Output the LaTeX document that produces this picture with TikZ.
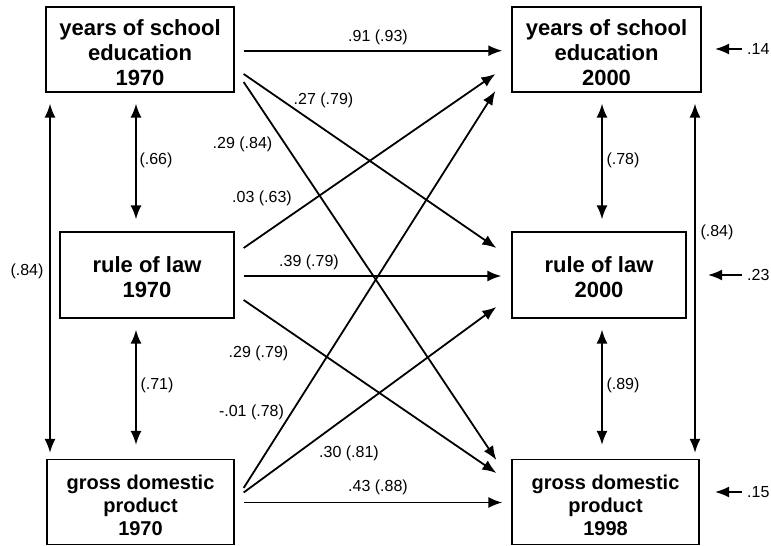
\documentclass[tikz,border=0pt]{standalone}
\usepackage{fontspec}
\setmainfont{Liberation Sans}
\usetikzlibrary{arrows.meta,calc}
% strut that lowers the text block a little inside its box
\newcommand{\toplift}[1]{\rule{0pt}{#1}}
\begin{document}
\begin{tikzpicture}[x=1bp,y=-1bp,
  var/.style={draw, line width=1.3bp, inner sep=0pt, align=center,
    font=\fontsize{22bp}{25bp}\selectfont\bfseries},
  gdp/.style={var, font=\fontsize{20bp}{23bp}\selectfont\bfseries},
  effect/.style={line width=1.8bp, -{Latex[length=14bp,width=11bp]}},
  corr/.style={line width=1.8bp, {Latex[length=14bp,width=11bp]}-{Latex[length=14bp,width=11bp]}},
  coef/.style={font=\fontsize{16bp}{18bp}\selectfont, inner sep=0pt}
]
\useasboundingbox (0,0) rectangle (771,546);

% variables, 1970 wave (left) and 2000 wave (right)
\node[var, minimum width=188bp, minimum height=85bp] (ys1) at (140,49.5) {\toplift{23bp}years of school\\education\\1970};
\node[var, minimum width=174bp, minimum height=86bp] (rl1) at (147,275) {\toplift{21bp}rule of law\\1970};
\node[gdp, minimum width=187bp, minimum height=85bp] (gd1) at (140.5,502) {\toplift{22bp}gross domestic\\product\\1970};
\node[var, minimum width=189bp, minimum height=85bp] (ys2) at (606.5,49.5) {\toplift{23bp}years of school\\education\\2000};
\node[var, minimum width=174bp, minimum height=86bp] (rl2) at (599,275) {\toplift{21bp}rule of law\\2000};
\node[gdp, minimum width=187bp, minimum height=85bp] (gd2) at (605.5,502) {\toplift{22bp}gross domestic\\product\\1998};

% cross-lagged paths
\draw[effect] ($(ys1.east)+(9,1.2)$) -- ($(ys2.west)+(-9,1.2)$);
\draw[effect] ($(ys1.east)+(9,24.5)$) -- ($(rl2.west)+(-15,-27)$);
\draw[effect] ($(ys1.east)+(9,32.5)$) -- ($(gd2.west)+(-15,-42)$);
\draw[effect] ($(rl1.east)+(9,-27)$) -- ($(ys2.west)+(-16,24.5)$);
\draw[effect] ($(rl1.east)+(9,1)$) -- ($(rl2.west)+(-10,1)$);
\draw[effect] ($(rl1.east)+(9,25)$) -- ($(gd2.west)+(-15,-29)$);
\draw[effect] ($(gd1.east)+(9,-14)$) -- ($(ys2.west)+(-16,41.5)$);
\draw[effect] ($(gd1.east)+(9,-9.5)$) -- ($(rl2.west)+(-15,32)$);
\draw[effect] ($(gd1.east)+(9,0.5)$) -- ($(gd2.west)+(-9,0.5)$);

% path coefficients
\node[coef] (c1) at (378,37) {.91 (.93)};
\node[coef] (c2) at (323.5,100) {.27 (.79)};
\node[coef] (c3) at (242.5,144) {.29 (.84)};
\node[coef] (c4) at (262,198) {.03 (.63)};
\node[coef] (c5) at (309,262) {.39 (.79)};
\node[coef] (c6) at (258.5,353) {.29 (.79)};
\node[coef] (c7) at (251.5,412) {-.01 (.78)};
\node[coef] (c8) at (349,453) {.30 (.81)};
\node[coef] (c9) at (378,487) {.43 (.88)};

% correlations within each wave
\draw[corr] ($(ys1.south)+(-4,11)$) -- ($(rl1.north)+(-11,-12)$);
\draw[corr] ($(rl1.south)+(-11,11)$) -- ($(gd1.north)+(-4.5,-14)$);
\draw[corr] ($(ys1.south)+(-90,11)$) -- ($(gd1.north)+(-90.5,-6)$);
\draw[corr] ($(ys2.south)+(-4.5,11)$) -- ($(rl2.north)+(3,-12)$);
\draw[corr] ($(rl2.south)+(3,11)$) -- ($(gd2.north)+(-3.5,-14)$);
\draw[corr] ($(ys2.south)+(88.5,11)$) -- ($(gd2.north)+(89.5,-6)$);

\node[coef] (r1) at (156,160) {(.66)};
\node[coef] (r2) at (157,385) {(.71)};
\node[coef] (r3) at (27,271) {(.84)};
\node[coef] (r4) at (623,160) {(.78)};
\node[coef] (r5) at (623,385) {(.89)};
\node[coef] (r6) at (717,232) {(.84)};

% residual terms of the 2000 wave
\node[coef, anchor=west] (e1) at (747,49) {.14};
\node[coef, anchor=west] (e2) at (747,275) {.23};
\node[coef, anchor=west] (e3) at (747,492) {.15};
\draw[effect] ([xshift=-5bp]e1.west) -- ([xshift=-32bp]e1.west);
\draw[effect] ([xshift=-5bp]e2.west) -- ([xshift=-39bp]e2.west);
\draw[effect] ([xshift=-5bp]e3.west) -- ([xshift=-32bp]e3.west);
\end{tikzpicture}
\end{document}
